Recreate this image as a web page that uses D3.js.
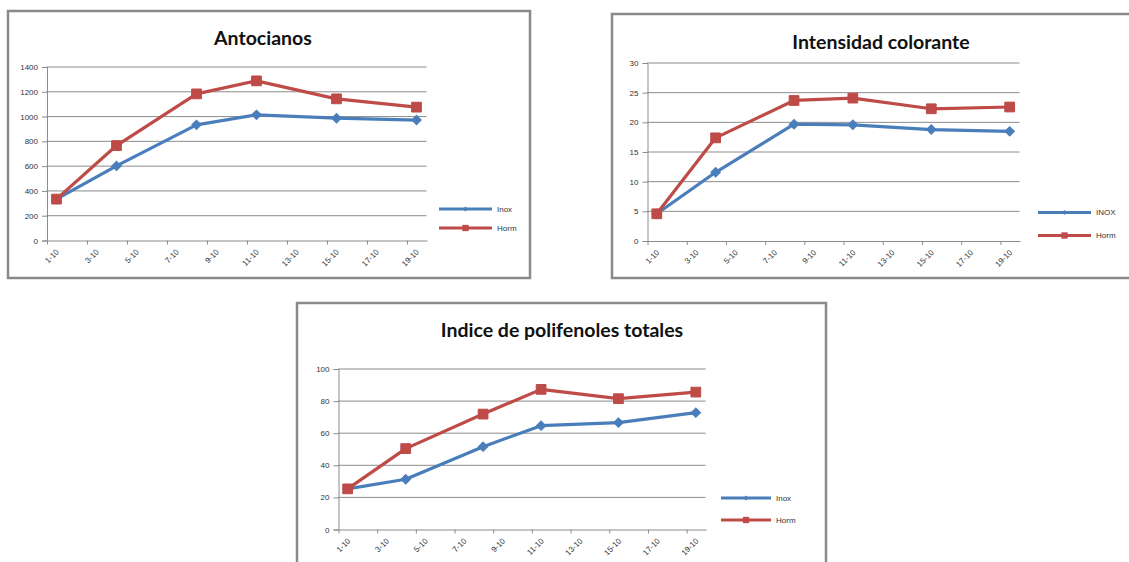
<!DOCTYPE html>
<html>
<head>
<meta charset="utf-8">
<script src="https://cdn.jsdelivr.net/npm/d3@7"></script>
<style>
  html, body { margin: 0; padding: 0; background: #fff; }
  svg { display: block; }
  .title { font-family: Lato, "Open Sans", sans-serif; font-weight: bold; }
  .small { font-family: "Liberation Sans", Arial, sans-serif; }
</style>
</head>
<body>
<svg id="chart" width="1129" height="562"></svg>
<script>
// Sampling days (October) and axis tick days
const sampleDays = [1, 4, 8, 11, 15, 19];
const tickDays = [1, 3, 5, 7, 9, 11, 13, 15, 17, 19];
const tickLabels = tickDays.map(d => d + "-10");

// Antocianos
const antoInox = [330, 598, 929, 1010, 983, 968];
const antoHorm = [330, 762, 1179, 1284, 1139, 1072];
const antoTicks = [0, 200, 400, 600, 800, 1000, 1200, 1400];

// Intensidad colorante
const icInox = [4.5, 11.5, 19.6, 19.5, 18.7, 18.4];
const icHorm = [4.5, 17.3, 23.6, 24.0, 22.2, 22.5];
const icTicks = [0, 5, 10, 15, 20, 25, 30];

// Indice de polifenoles totales
const iptInox = [25.0, 31.0, 51.3, 64.4, 66.3, 72.5];
const iptHorm = [25.0, 50.1, 71.6, 87.0, 81.2, 85.3];
const iptTicks = [0, 20, 40, 60, 80, 100];

const BLUE = "#4a7ebb";
const RED = "#be4b48";
const GRID = "#8c8c8c";

const svg = d3.select("#chart");

function drawPanel(cfg) {
  const g = svg.append("g");

  // outer frame
  g.append("rect")
    .attr("x", cfg.frame[0]).attr("y", cfg.frame[1])
    .attr("width", cfg.frame[2]).attr("height", cfg.frame[3])
    .attr("fill", "#fff").attr("stroke", "#8a8a8a").attr("stroke-width", 2.5);

  // title
  g.append("text").attr("class", "title")
    .attr("x", cfg.titleX).attr("y", cfg.titleY)
    .attr("text-anchor", "middle")
    .attr("font-size", 19.5).attr("fill", "#111")
    .text(cfg.title);

  const x = d3.scaleLinear().domain([1, 20]).range([cfg.left, cfg.right]);
  const y = d3.scaleLinear().domain([0, cfg.yMax]).range([cfg.bottom, cfg.top]);

  // horizontal gridlines
  g.append("g").selectAll("line")
    .data(cfg.yTicks.filter(v => v > 0))
    .join("line")
    .attr("x1", cfg.left).attr("x2", cfg.right)
    .attr("y1", d => y(d) + 0.5).attr("y2", d => y(d) + 0.5)
    .attr("stroke", GRID).attr("stroke-width", 1);

  // y axis
  const ya = g.append("g")
    .attr("transform", `translate(${cfg.left + 0.5},0.5)`)
    .call(d3.axisLeft(y).tickValues(cfg.yTicks).tickSize(5).tickPadding(4).tickFormat(d3.format("d")));
  ya.attr("font-family", null).attr("font-size", null);
  ya.select(".domain").attr("stroke", GRID);
  ya.selectAll(".tick line").attr("stroke", GRID);
  ya.selectAll("text").attr("class", "small").attr("font-size", 8).attr("fill", "#333");

  // x axis (date axis by day)
  const xa = g.append("g")
    .attr("transform", `translate(0.5,${cfg.bottom + 0.5})`)
    .call(d3.axisBottom(x).tickValues(tickDays).tickSize(4).tickSizeOuter(0)
      .tickFormat((d, i) => tickLabels[i]));
  xa.attr("font-family", null).attr("font-size", null);
  xa.select(".domain").attr("stroke", GRID);
  xa.selectAll(".tick line").attr("stroke", GRID);
  xa.selectAll("text")
    .attr("class", "small")
    .attr("font-size", 8).attr("fill", "#333")
    .attr("text-anchor", "end")
    .attr("x", 0).attr("y", 0).attr("dy", "0.35em")
    .attr("transform", "translate(10,10) rotate(-45)");

  const line = d3.line().x((d, i) => x(sampleDays[i] + 0.5)).y(d => y(d));

  const series = [
    { vals: cfg.inox, color: BLUE, shape: "diamond", name: cfg.inoxName },
    { vals: cfg.horm, color: RED, shape: "square", name: "Horm" }
  ];

  series.forEach(s => {
    g.append("path").datum(s.vals)
      .attr("d", line).attr("fill", "none")
      .attr("stroke", s.color).attr("stroke-width", 3.2)
      .attr("stroke-linejoin", "round");
  });

  series.forEach(s => {
    g.append("g").selectAll("path")
      .data(s.vals).join("path")
      .attr("transform", (d, i) => s.shape === "diamond"
        ? `translate(${x(sampleDays[i] + 0.5)},${y(d)}) rotate(45)`
        : `translate(${x(sampleDays[i] + 0.5)},${y(d)})`)
      .attr("d", d3.symbol().type(d3.symbolSquare).size(s.shape === "diamond" ? 45 : 95))
      .attr("fill", s.color).attr("stroke", s.color).attr("stroke-width", 1);
  });

  // legend
  const lg = g.append("g");
  series.forEach((s, i) => {
    const ly = cfg.legendY[i];
    const x0 = cfg.legendX, x1 = cfg.legendX + cfg.legendW;
    lg.append("line").attr("x1", x0).attr("x2", x1).attr("y1", ly).attr("y2", ly)
      .attr("stroke", s.color).attr("stroke-width", 3);
    const mx = (x0 + x1) / 2;
    lg.append("path")
      .attr("transform", s.shape === "diamond" ? `translate(${mx},${ly}) rotate(45)` : `translate(${mx},${ly})`)
      .attr("d", d3.symbol().type(d3.symbolSquare).size(s.shape === "diamond" ? 12 : 40))
      .attr("fill", s.color);
    lg.append("text").attr("class", "small")
      .attr("x", x1 + 5).attr("y", ly).attr("dy", "0.35em")
      .attr("font-size", 8).attr("fill", "#333")
      .text(s.name);
  });
}

drawPanel({
  frame: [8, 11, 522, 267],
  title: "Antocianos", titleX: 263, titleY: 45,
  left: 46.5, right: 426.5, top: 66.5, bottom: 240,
  yMax: 1400, yTicks: antoTicks,
  inox: antoInox, horm: antoHorm, inoxName: "Inox",
  legendX: 439, legendW: 53, legendY: [209, 228]
});

drawPanel({
  frame: [612, 14, 522, 264],
  title: "Intensidad colorante", titleX: 881, titleY: 49,
  left: 647, right: 1019.5, top: 62.5, bottom: 240.5,
  yMax: 30, yTicks: icTicks,
  inox: icInox, horm: icHorm, inoxName: "INOX",
  legendX: 1038, legendW: 53, legendY: [212.5, 235.5]
});

drawPanel({
  frame: [297, 303, 529, 270],
  title: "Indice de polifenoles totales", titleX: 562, titleY: 337,
  left: 338, right: 705.5, top: 368.5, bottom: 529,
  yMax: 100, yTicks: iptTicks,
  inox: iptInox, horm: iptHorm, inoxName: "Inox",
  legendX: 721, legendW: 50, legendY: [498, 520]
});
</script>
</body>
</html>
